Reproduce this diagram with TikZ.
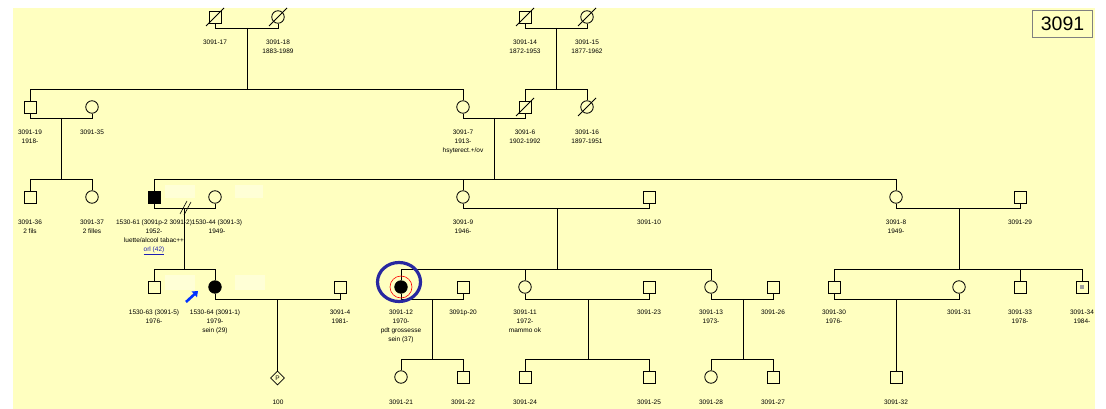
\documentclass[tikz,border=0pt]{standalone}
\usepackage{fontspec}
\setmainfont{Liberation Sans}
\usetikzlibrary{shapes.geometric,arrows.meta}
\definecolor{bg}{RGB}{255,255,192}
\definecolor{faint}{RGB}{255,255,214}
\definecolor{ringblue}{RGB}{40,40,160}
\definecolor{linkblue}{RGB}{30,30,180}
\definecolor{boxgray}{RGB}{128,128,128}
\definecolor{arrowblue}{RGB}{0,50,255}
\newcommand\pdead[1]{\draw ([shift={(-9,9)}]#1.center) -- ([shift={(9,-9)}]#1.center);}
\begin{document}
\begin{tikzpicture}[x=1pt,y=-1pt,line width=0.8pt,
  male/.style={draw,rectangle,minimum size=12pt,inner sep=0pt,fill=bg},
  female/.style={draw,circle,minimum size=12.5pt,inner sep=0pt,fill=bg},
  aff/.style={fill=black},
  lab/.style={font=\fontsize{6.5}{9}\selectfont,anchor=north,inner sep=0pt,align=center},
  faintbox/.style={fill=faint,draw=none},
]
\useasboundingbox (0,0) rectangle (1106,409);
\fill[white] (0,0) rectangle (1106,409);
\fill[bg] (13,8) rectangle (1095,409);
% faint boxes
\fill[faintbox] (165,185) rectangle (195,198);
\fill[faintbox] (235,185) rectangle (263,198);
\fill[faintbox] (165,275) rectangle (195,290);
\fill[faintbox] (235,275) rectangle (265,290);

% id box
\node[draw=boxgray,line width=1.6pt,fill=bg,minimum width=60pt,minimum height=27pt,inner sep=0pt,font=\fontsize{19.5}{20}\selectfont] (idbox) at (1062.5,24) {3091};

% coordinates for descent lines
\coordinate (m1) at (247,28);  \coordinate (s1) at (247,90);
\coordinate (m2) at (556,28);  \coordinate (s2) at (556,90);
\coordinate (m3) at (61,118);  \coordinate (s3) at (61,180);
\coordinate (m4) at (494,118); \coordinate (s4) at (494,180);
\coordinate (m5) at (184,208); \coordinate (s5) at (184,270);
\coordinate (m6) at (557,208); \coordinate (s6) at (557,270);
\coordinate (m7) at (959,208); \coordinate (s7) at (959,270);
\coordinate (m8) at (432,299); \coordinate (s8) at (432,360);
\coordinate (m9) at (588,299); \coordinate (s9) at (588,360);
\coordinate (m10) at (743,299); \coordinate (s10) at (743,360);
\coordinate (m11) at (277.5,299);
\coordinate (m12) at (896,299);

\draw (m1)--(s1); \draw (m2)--(s2); \draw (m3)--(s3); \draw (m4)--(s4);
\draw (m5)--(s5); \draw (m6)--(s6); \draw (m7)--(s7); \draw (m8)--(s8);
\draw (m9)--(s9); \draw (m10)--(s10);

% Generation I
\node[male] (p17) at (215,17) {};
\node[female] (p18) at (278,17) {};
\node[male] (p14) at (525,17) {};
\node[female] (p15) at (587,17) {};
% Generation II
\node[male] (p19) at (30,107) {};
\node[female] (p35) at (92,107) {};
\node[female] (p7) at (463,107) {};
\node[male] (p6) at (525,107) {};
\node[female] (p16) at (587,107) {};
% Generation III
\node[male] (p36) at (30,197) {};
\node[female] (p37) at (92,197) {};
\node[male,aff] (p61) at (154,197) {};
\node[female] (p44) at (215,197) {};
\node[female] (p9) at (463,197) {};
\node[male] (p10) at (649,197) {};
\node[female] (p8) at (896,197) {};
\node[male] (p29) at (1020,197) {};
% Generation IV
\node[male] (p63) at (154,287) {};
\node[female,aff] (p64) at (215,287) {};
\node[male] (p4) at (340,287) {};
\node[female,aff] (p12) at (401,287) {};
\node[male] (p20) at (463,287) {};
\node[female] (p11) at (525,287) {};
\node[male] (p23) at (649,287) {};
\node[female] (p13) at (711,287) {};
\node[male] (p26) at (773,287) {};
\node[male] (p30) at (834,287) {};
\node[female] (p31) at (959,287) {};
\node[male] (p33) at (1020,287) {};
\node[male] (p34) at (1082,287) {};
% Generation V
\node[draw,diamond,minimum size=14pt,inner sep=0pt,fill=bg,font=\fontsize{6.5}{6.5}\selectfont] (pP) at (277.5,378) {P};
\node[female] (p21) at (401,377) {};
\node[male] (p22) at (463,377) {};
\node[male] (p24) at (525,377) {};
\node[male] (p25) at (649,377) {};
\node[female] (p28) at (711,377) {};
\node[male] (p27) at (773,377) {};
\node[male] (p32) at (896,377) {};

% deceased marks
\pdead{p17}\pdead{p18}\pdead{p14}\pdead{p15}\pdead{p6}\pdead{p16}

% small mark in p34
\fill[gray!75] ([shift={(-2.3,-2.3)}]p34.center) rectangle ([shift={(2.3,2.3)}]p34.center);

% couple lines
\draw (p17.south) -- ++(0,5) -| (p18.south);
\draw (p14.south) -- ++(0,5) -| (p15.south);
\draw (p19.south) -- ++(0,5) -| (p35.south);
\draw (p7.south) -- ++(0,5) -| (p6.south);
\draw (p61.south) -- ++(0,5) -| (p44.south);
\draw (p9.south) -- ++(0,5) -| (p10.south);
\draw (p8.south) -- ++(0,5) -| (p29.south);
\draw (p64.south) -- ++(0,5.5) -| (p4.south);
\draw (p12.south) -- ++(0,5.5) -| (p20.south);
\draw (p11.south) -- ++(0,5.5) -| (p23.south);
\draw (p13.south) -- ++(0,5.5) -| (p26.south);
\draw (p30.south) -- ++(0,5.5) -| (p31.south);

% divorce mark
\coordinate (d1a) at (180,214); \coordinate (d1b) at (187,201);
\coordinate (d2a) at (184,215); \coordinate (d2b) at (191,202);
\draw[line width=0.6pt] (d1a) -- (d1b);
\draw[line width=0.6pt] (d2a) -- (d2b);

% sibship lines
\draw (p19.north) -- ++(0,-11) -| (p7.north);
\draw (p6.north) -- ++(0,-11) -| (p16.north);
\draw (p36.north) -- ++(0,-11) -| (p37.north);
\draw (p61.north) -- ++(0,-11) -| (p8.north);
\draw (p9.north) -- ++(0,-11);
\draw (p63.north) -- ++(0,-11) -| (p64.north);
\draw (p12.north) -- ++(0,-11) -| (p13.north);
\draw (p11.north) -- ++(0,-11);
\draw (p30.north) -- ++(0,-11) -| (p34.north);
\draw (p33.north) -- ++(0,-11);
\draw (p21.north) -- ++(0,-11) -| (p22.north);
\draw (p24.north) -- ++(0,-11) -| (p25.north);
\draw (p28.north) -- ++(0,-11) -| (p27.north);
\draw (m11) -- (pP.north);
\draw (m12) -- (p32.north);

% proband markers
\draw[red,line width=0.6pt] (p12.center) circle [radius=11];
\draw[ringblue,line width=3.2pt] ([shift={(-2,-5)}]p12.center) ellipse [x radius=21.5, y radius=19.5];
\coordinate (ar1) at (186,302); \coordinate (ar2) at (198,291);
\draw[arrowblue,line width=2.6pt,-{Triangle[length=5pt,width=7.5pt]}] (ar1) -- (ar2);

% labels
\node[lab] (l17) at (215,39.2) {3091-17};
\node[lab] (l18) at (278,39.2) {3091-18\\1883-1989};
\node[lab] (l14) at (525,39.2) {3091-14\\1872-1953};
\node[lab] (l15) at (587,39.2) {3091-15\\1877-1962};
\node[lab] (l19) at (30,129.2) {3091-19\\1918-};
\node[lab] (l35) at (92,129.2) {3091-35};
\node[lab] (l7) at (463,129.2) {3091-7\\1913-\\hsyterect.+/ov};
\node[lab] (l6) at (525,129.2) {3091-6\\1902-1992};
\node[lab] (l16) at (587,129.2) {3091-16\\1897-1951};
\node[lab] (l36) at (30,219.2) {3091-36\\2 fils};
\node[lab] (l37) at (92,219.2) {3091-37\\2 filles};
\node[lab] (l61) at (154,219.2) {1530-61 (3091p-2 3091-2)\\1952-\\luette/alcool tabac++\\\textcolor{linkblue}{\underline{orl (42)}}};
\node[lab] (l44) at (217,219.2) {1530-44 (3091-3)\\1949-};
\node[lab] (l9) at (463,219.2) {3091-9\\1946-};
\node[lab] (l10) at (649,219.2) {3091-10};
\node[lab] (l8) at (896,219.2) {3091-8\\1949-};
\node[lab] (l29) at (1020,219.2) {3091-29};
\node[lab] (l63) at (154,309.2) {1530-63 (3091-5)\\1976-};
\node[lab] (l64) at (215,309.2) {1530-64 (3091-1)\\1979-\\sein (29)};
\node[lab] (l4) at (340,309.2) {3091-4\\1981-};
\node[lab] (l12) at (401,309.2) {3091-12\\1970-\\pdt grossesse\\sein (37)};
\node[lab] (l20) at (463,309.2) {3091p-20};
\node[lab] (l11) at (525,309.2) {3091-11\\1972-\\mammo ok};
\node[lab] (l23) at (649,309.2) {3091-23};
\node[lab] (l13) at (711,309.2) {3091-13\\1973-};
\node[lab] (l26) at (773,309.2) {3091-26};
\node[lab] (l30) at (834,309.2) {3091-30\\1976-};
\node[lab] (l31) at (959,309.2) {3091-31};
\node[lab] (l33) at (1020,309.2) {3091-33\\1978-};
\node[lab] (l34) at (1082,309.2) {3091-34\\1984-};
\node[lab] (lP) at (278,399.2) {100};
\node[lab] (l21) at (401,399.2) {3091-21};
\node[lab] (l22) at (463,399.2) {3091-22};
\node[lab] (l24) at (525,399.2) {3091-24};
\node[lab] (l25) at (649,399.2) {3091-25};
\node[lab] (l28) at (711,399.2) {3091-28};
\node[lab] (l27) at (773,399.2) {3091-27};
\node[lab] (l32) at (896,399.2) {3091-32};
\end{tikzpicture}
\end{document}
